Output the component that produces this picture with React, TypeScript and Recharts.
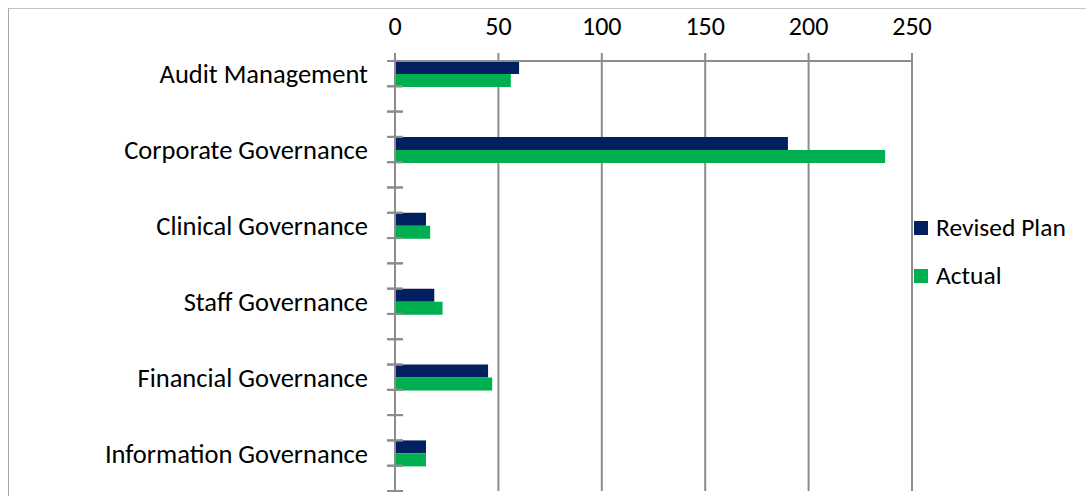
import { BarChart, Bar, XAxis, YAxis, CartesianGrid, Legend } from 'recharts';

const categories = [
  'Audit Management',
  'Corporate Governance',
  'Clinical Governance',
  'Staff Governance',
  'Financial Governance',
  'Information Governance',
];
const revisedPlan = [60, 190, 15, 19, 45, 15];
const actual = [56, 237, 17, 23, 47, 15];
const valueTicks = [0, 50, 100, 150, 200, 250];
const seriesNames = ['Revised Plan', 'Actual'];

const NAVY = '#002060';
const GREEN = '#00B050';
const GRID = '#8c8c8c';
const FONT = 'Carlito, Lato, sans-serif';

// the sheet has two blank rows after every category, so only every third row carries a label
type Row = { key: string; name: string; plan?: number; actual?: number };
const rows: Row[] = [];
categories.forEach((name, i) => {
  rows.push({ key: `c${i}`, name, plan: revisedPlan[i], actual: actual[i] });
  if (i < categories.length - 1) {
    rows.push({ key: `c${i}a`, name: '' });
    rows.push({ key: `c${i}b`, name: '' });
  }
});
rows.push({ key: 'end', name: '' });

const labelByKey: Record<string, string> = {};
rows.forEach((r) => (labelByKey[r.key] = r.name));

function CategoryTick(props: any) {
  const { x, y, payload, height } = props;
  const half = payload.offset ?? height / rows.length / 2;
  const label = labelByKey[payload.value] ?? '';
  return (
    <g>
      <line x1={x - 8} x2={x + 8} y1={y - half} y2={y - half} stroke={GRID} strokeWidth={2} />
      <line x1={x - 8} x2={x + 8} y1={y + half} y2={y + half} stroke={GRID} strokeWidth={2} />
      {label && (
        <text x={x - 27} y={y} dy="0.36em" textAnchor="end" fill="#000" fontSize={26.5} fontFamily={FONT}>
          {label}
        </text>
      )}
    </g>
  );
}

function LegendBox({ payload }: any) {
  const items = [...(payload || [])].sort(
    (a: any, b: any) => seriesNames.indexOf(a.value) - seriesNames.indexOf(b.value)
  );
  return (
    <div style={{ fontFamily: FONT, fontSize: 25.5, color: '#000' }}>
      {items.map((item: any) => (
        <div key={item.value} style={{ display: 'flex', alignItems: 'center', height: 24, marginBottom: 24 }}>
          <span style={{ width: 14, height: 14, background: item.color, marginRight: 8, display: 'inline-block' }} />
          <span style={{ lineHeight: '24px', whiteSpace: 'nowrap' }}>{item.value}</span>
        </div>
      ))}
    </div>
  );
}

export default function App() {
  return (
    <div
      style={{
        position: 'fixed',
        left: 8,
        top: 8,
        width: 1078,
        height: 488,
        boxSizing: 'border-box',
        borderTop: '1px solid #c4c4c4',
        borderLeft: '1px solid #a6a6a6',
        background: '#fff',
      }}
    >
      <BarChart
        width={1077}
        height={487}
        data={rows}
        layout="vertical"
        margin={{ top: 12, right: 174, bottom: 5, left: 0 }}
        barCategoryGap={0}
        barGap={0}
      >
        <CartesianGrid horizontal={false} stroke={GRID} strokeWidth={2} />
        <XAxis
          type="number"
          orientation="top"
          domain={[0, 250]}
          ticks={valueTicks}
          interval={0}
          height={40}
          tickSize={8}
          tickMargin={18}
          axisLine={{ stroke: GRID, strokeWidth: 2 }}
          tickLine={{ stroke: GRID, strokeWidth: 2 }}
          tick={{ fill: '#000', fontSize: 26, fontFamily: FONT }}
        />
        <YAxis
          type="category"
          dataKey="key"
          width={386}
          interval={0}
          tickSize={0}
          tickMargin={0}
          tickLine={false}
          axisLine={{ stroke: GRID, strokeWidth: 2 }}
          tick={<CategoryTick />}
        />
        <Legend
          layout="vertical"
          verticalAlign="middle"
          align="center"
          wrapperStyle={{ left: 905, top: 207, width: 170 }}
          content={<LegendBox />}
        />
        <Bar dataKey="plan" name={seriesNames[0]} fill={NAVY} isAnimationActive={false} />
        <Bar dataKey="actual" name={seriesNames[1]} fill={GREEN} isAnimationActive={false} />
      </BarChart>
    </div>
  );
}
